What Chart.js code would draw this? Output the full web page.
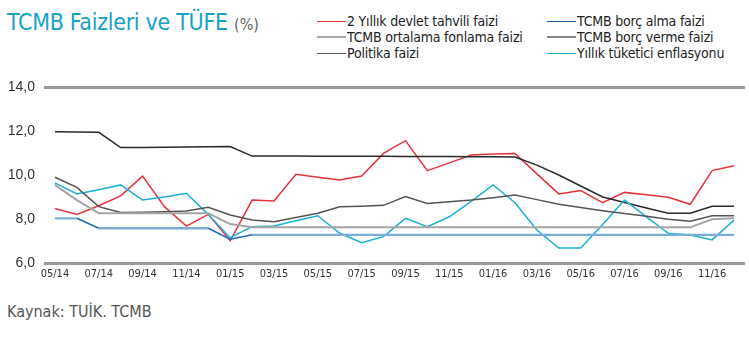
<!DOCTYPE html>
<html>
<head>
<meta charset="utf-8">
<script src="https://cdn.jsdelivr.net/npm/chart.js@4.4.1/dist/chart.umd.min.js"></script>
<style>
  html, body { margin: 0; padding: 0; background: #fff; }
  body { width: 749px; height: 339px; position: relative; overflow: hidden;
         font-family: 'Liberation Sans Narrow', 'DejaVu Sans Condensed', 'Liberation Sans', sans-serif; }
  #title { position: absolute; left: 7px; top: 9px; font-size: 23px; color: #17a2c8; white-space: nowrap; letter-spacing: -0.3px; }
  #title span { font-size: 16px; color: #666; letter-spacing: 0; }
  .leg { position: absolute; font-size: 14px; color: #222; white-space: nowrap; line-height: 16px; letter-spacing: -0.2px; }
  .leg i { display: inline-block; width: 29px; vertical-align: middle; margin-right: 1px; position: relative; top: -1px; }
  #foot { position: absolute; left: 7px; top: 302px; font-size: 16px; color: #555; white-space: nowrap; }
  #wrap { position: absolute; left: 0; top: 0; width: 749px; height: 339px; }
</style>
</head>
<body>
<div id="title">TCMB Faizleri ve TÜFE <span>(%)</span></div>
<div class="leg" style="left:317px;top:13px"><i style="border-top:1.5px solid #e8323c"></i>2 Yıllık devlet tahvili faizi</div>
<div class="leg" style="left:317px;top:29px"><i style="border-top:2.5px solid #a8a8a8"></i>TCMB ortalama fonlama faizi</div>
<div class="leg" style="left:317px;top:45px"><i style="border-top:1.5px solid #555"></i>Politika faizi</div>
<div class="leg" style="left:547px;top:13px"><i style="border-top:1.5px solid #1e5ea8"></i>TCMB borç alma faizi</div>
<div class="leg" style="left:547px;top:29px"><i style="border-top:2.5px solid #888"></i>TCMB borç verme faizi</div>
<div class="leg" style="left:547px;top:45px"><i style="border-top:1.5px solid #1ab0d8"></i>Yıllık tüketici enflasyonu</div>
<div id="foot">Kaynak: TUİK. TCMB</div>
<div id="wrap"><canvas id="c" width="749" height="339"></canvas></div>
<script>
const months = ["05/14","06/14","07/14","08/14","09/14","10/14","11/14","12/14",
  "01/15","02/15","03/15","04/15","05/15","06/15","07/15","08/15","09/15","10/15","11/15","12/15",
  "01/16","02/16","03/16","04/16","05/16","06/16","07/16","08/16","09/16","10/16","11/16","12/16"];
const yTicks = [6, 8, 10, 12, 14];

const tahvil = [8.48, 8.21, 8.6, 9.05, 9.95, 8.56, 7.68, 8.21, 7.01, 8.86, 8.82, 10.03, 9.9, 9.77, 9.95, 10.98,
  11.56, 10.2, 10.55, 10.91, 10.95, 10.98, 10.05, 9.14, 9.29, 8.74, 9.21, 9.1, 8.99, 8.67, 10.2, 10.42];
const borcVerme = [11.97, 11.96, 11.94, 11.25, 11.25, 11.26, 11.27, 11.28, 11.29, 10.86, 10.86, 10.86, 10.85, 10.85, 10.85, 10.85,
  10.84, 10.84, 10.84, 10.83, 10.83, 10.82, 10.45, 10.0, 9.5, 9.0, 8.75, 8.5, 8.26, 8.26, 8.58, 8.58];
const fonlama = [9.9, 9.44, 8.56, 8.3, 8.31, 8.33, 8.36, 8.53, 8.18, 7.95, 7.88, 8.07, 8.26, 8.56, 8.58, 8.62,
  9.02, 8.71, 8.78, 8.86, 8.97, 9.09, 8.88, 8.67, 8.52, 8.38, 8.25, 8.12, 7.99, 7.9, 8.15, 8.15];
const politika = [9.55, 8.86, 8.26, 8.26, 8.26, 8.26, 8.26, 8.26, 7.77, 7.62, 7.62, 7.62, 7.62, 7.62, 7.62, 7.62,
  7.62, 7.62, 7.62, 7.62, 7.62, 7.62, 7.62, 7.62, 7.62, 7.62, 7.62, 7.62, 7.62, 7.62, 7.99, 8.03];
const enflasyon = [9.64, 9.14, 9.33, 9.55, 8.86, 9.0, 9.17, 8.2, 7.15, 7.65, 7.68, 7.92, 8.15, 7.35, 6.92, 7.2,
  8.03, 7.65, 8.1, 8.8, 9.55, 8.74, 7.5, 6.68, 6.68, 7.75, 8.86, 8.1, 7.35, 7.27, 7.05, 7.95];
const borcAlma = [8.03, 8.03, 7.58, 7.58, 7.58, 7.58, 7.58, 7.58, 7.08, 7.28, 7.28, 7.28, 7.28, 7.28, 7.28, 7.28,
  7.28, 7.28, 7.28, 7.28, 7.28, 7.28, 7.28, 7.28, 7.28, 7.28, 7.28, 7.28, 7.28, 7.28, 7.28, 7.28];

const tickFont = { family: "'Liberation Sans Narrow', 'DejaVu Sans Condensed', sans-serif", size: 11 };
function ds(label, data, color, width, flatColor) {
  const d = { label, data, borderColor: color, backgroundColor: color, borderWidth: width,
           pointRadius: 0, tension: 0, fill: false };
  if (flatColor) {
    d.segment = {
      borderColor: (ctx) => ctx.p0.parsed.y === ctx.p1.parsed.y ? flatColor : color,
      borderWidth: (ctx) => ctx.p0.parsed.y === ctx.p1.parsed.y ? width + 0.8 : width
    };
  }
  return d;
}
new Chart(document.getElementById('c'), {
  type: 'line',
  data: {
    labels: months,
    datasets: [
      ds('Politika faizi', politika, '#a5a5a5', 2),
      ds('TCMB borç alma faizi', borcAlma, '#1f6cb5', 1.6, '#78aed8'),
      ds('TCMB ortalama fonlama faizi', fonlama, '#555555', 1.5),
      ds('Yıllık tüketici enflasyonu', enflasyon, '#1ab0d8', 1.5),
      ds('TCMB borç verme faizi', borcVerme, '#2a2a2a', 1.5),
      ds('2 Yıllık devlet tahvili faizi', tahvil, '#e8323c', 1.5)
    ]
  },
  options: {
    responsive: false,
    animation: false,
    layout: { padding: { top: 87, right: 4, left: 0, bottom: 0 } },
    plugins: { legend: { display: false }, tooltip: { enabled: false } },
    scales: {
      x: {
        type: 'category',
        offset: true,
        grid: { display: false, drawTicks: false },
        border: { display: false },
        afterFit: (s) => { s.height = 76; },
        ticks: {
          autoSkip: false, maxRotation: 0, padding: 5, color: '#333', font: tickFont,
          callback: function(v, i) { return i % 2 === 0 ? months[i] : ''; }
        }
      },
      y: {
        min: 6, max: 14,
        afterFit: (s) => { s.width = 44; },
        afterBuildTicks: (s) => { s.ticks = yTicks.map(v => ({ value: v })); },
        border: { display: false },
        grid: {
          drawTicks: false,
          color: (c) => (c.tick && (c.tick.value === 6 || c.tick.value === 14)) ? '#9a9a9a' : 'rgba(0,0,0,0)',
          lineWidth: 3
        },
        ticks: {
          padding: 9, color: '#333',
          font: { family: "'Liberation Sans', sans-serif", size: 14 },
          callback: (v) => v.toFixed(1).replace('.', ',')
        }
      }
    }
  }
});
</script>
</body>
</html>
